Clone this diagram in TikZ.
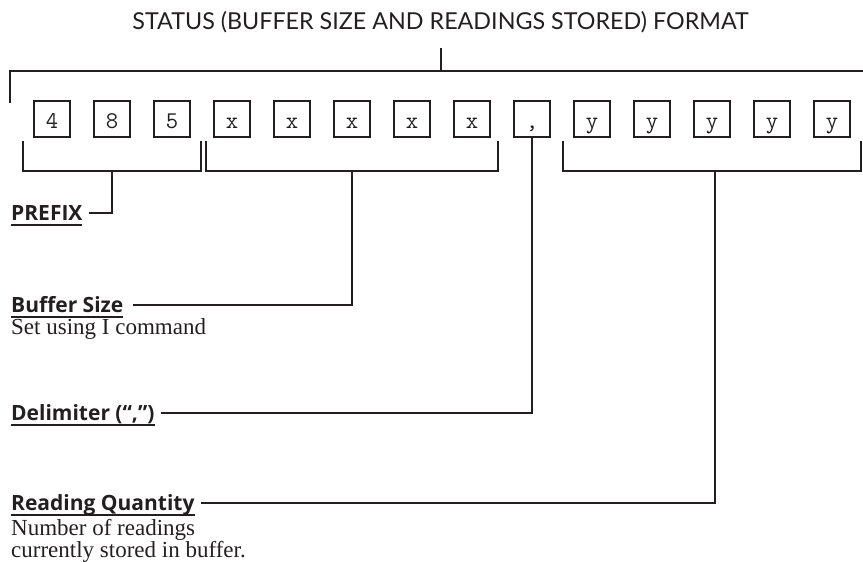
\documentclass[tikz,border=0pt]{standalone}
\usepackage{fontspec}
\setmainfont{Liberation Serif}
\setsansfont{Lato}
\newfontfamily\headfont{Open Sans}
\usepackage{xcolor}
\usetikzlibrary{positioning, calc}
\definecolor{ink}{HTML}{231F20}

\newcommand{\ulhead}[1]{\setbox0=\hbox{#1}\rlap{\rule[-6pt]{\wd0}{2pt}}\box0}

\begin{document}
\begin{tikzpicture}[x=1pt, y=-1pt,
  every node/.style={inner sep=0pt, text=ink},
  cell/.style={draw=ink, line width=2pt, minimum width=36pt, minimum height=36pt,
               font=\ttfamily\fontsize{24}{24}\selectfont, text height=19pt, text depth=0pt},
  wire/.style={draw=ink, line width=2pt},
  head/.style={anchor=base west, font=\headfont\bfseries\fontsize{21}{21}\selectfont},
  note/.style={align=left, font=\rmfamily\fontsize{23}{21.5}\selectfont}
]
\useasboundingbox (0,0) rectangle (863,562);

% title and the bracket over the whole string
\node[anchor=base, font=\sffamily\fontsize{23.3}{23}\selectfont] (title) at (440.5,29)
     {STATUS (BUFFER SIZE AND READINGS STORED) FORMAT};
\coordinate (tstem) at (440.5,48);
\coordinate (tbar) at (440.5,71);
\coordinate (tl) at (9.5,103);
\coordinate (tr) at (866,71);
\draw[wire] (tstem) -- (tbar);
\draw[wire] (tl) |- (tr);

% the characters
\foreach \c [count=\i] in {4,8,5,x,x,x,x,x,{,},y,y,y,y,y}
  \node[cell] (b\i) at ({52+60*(\i-1)},118.5) {\c};

% group brackets
\draw[wire] ([xshift=-10pt,yshift=-3pt]b1.south west) -- ++(0,30) -| ([xshift=10pt,yshift=-3pt]b3.south east);
\draw[wire] ([xshift=-7pt,yshift=-3pt]b4.south west) -- ++(0,30) -| ([xshift=7pt,yshift=-3pt]b8.south east);
\draw[wire] ([xshift=-10pt,yshift=-3pt]b10.south west) -- ++(0,30) -| ([xshift=10pt,yshift=-3pt]b14.south east);
\coordinate (pfxmid) at ($(b1.south west)!.5!(b3.south east)+(0,33)$);
\coordinate (bufmid) at ($(b4.south west)!.5!(b8.south east)+(0,33)$);
\coordinate (rdgmid) at ($(b10.south west)!.5!(b14.south east)+(3,33)$);

% labels
\node[head] (prefix) at (11,220) {\ulhead{PREFIX}};
\node[head] (bufsize) at (11,312) {\ulhead{Buffer Size}};
\node[note, below=0pt of bufsize.south west, anchor=north west] (bufnote) {Set using I command};
\node[head] (delim) at (11,420) {\ulhead{Delimiter (“,”)}};
\node[head] (readq) at (11,510) {\ulhead{Reading Quantity}};
\node[note, below=3pt of readq.south west, anchor=north west] (readnote)
     {Number of readings\\currently stored in buffer.};

% leaders
\draw[wire] (pfxmid) |- ([xshift=6pt,yshift=7pt]prefix.base east);
\draw[wire] (bufmid) |- ([xshift=9pt,yshift=7pt]bufsize.base east);
\draw[wire] (b9.south) |- ([xshift=6pt,yshift=7pt]delim.base east);
\draw[wire] (rdgmid) |- ([xshift=6pt,yshift=7pt]readq.base east);
\end{tikzpicture}
\end{document}
